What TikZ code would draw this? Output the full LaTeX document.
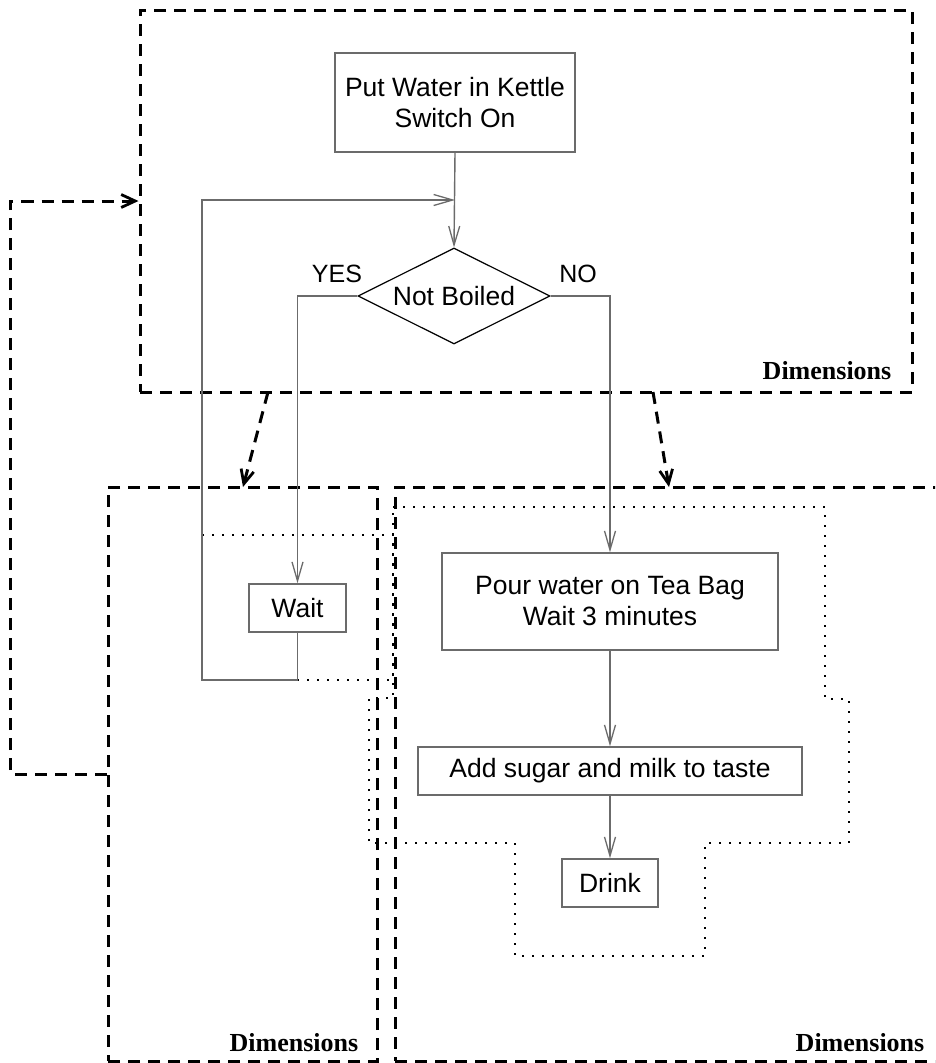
\documentclass[tikz,border=0pt]{standalone}
\usepackage{fontspec}
\setmainfont{Liberation Sans}
\newfontfamily\dimfont{Liberation Serif}
\usetikzlibrary{arrows.meta,shapes.geometric}

\begin{document}
\begin{tikzpicture}[x=1pt,y=-1pt,
  flow/.style={draw=black!58, line width=1.4pt},
  link/.style={flow, -{Straight Barb[length=19pt,width=11pt,line width=1.3pt]}},
  stepbox/.style={draw=black!58, line width=1.5pt, align=center, inner sep=0pt,
    font=\fontsize{26.5}{31}\selectfont},
  decision/.style={diamond, draw=black, line width=1.2pt, inner sep=0pt, aspect=2,
    minimum width=192pt, minimum height=96pt, font=\fontsize{26.5}{31}\selectfont},
  answer/.style={font=\fontsize{25}{28}\selectfont, inner sep=0pt},
  region/.style={draw=black, line width=3pt, dash pattern=on 12pt off 8pt,
    inner sep=0pt},
  regionlink/.style={draw=black, line width=3pt, dash pattern=on 12pt off 8pt,
    -{Straight Barb[length=14pt,width=13pt,line width=2.8pt]}},
  area/.style={draw=black, line width=2pt, dash pattern=on 2pt off 8pt},
  dimlabel/.style={font=\dimfont\bfseries\fontsize{26}{30}\selectfont,
    anchor=base east, inner sep=0pt}
]
\clip (0,0) rectangle (935,1063);
\fill[white] (0,0) rectangle (935,1063);

% dashed regions
\node[region, minimum width=772pt, minimum height=382pt] (top) at (526,201) {};
\node[region, minimum width=269pt, minimum height=574pt] (left) at (242.5,774) {};
\node[region, minimum width=548pt, minimum height=574pt] (right) at (669,774) {};

\node[dimlabel] (topdim) at ([xshift=-22pt,yshift=14pt]top.south east) {Dimensions};
\node[dimlabel] (leftdim) at ([xshift=-20pt,yshift=11pt]left.south east) {Dimensions};
\node[dimlabel] (rightdim) at ([xshift=-20pt,yshift=11pt]right.south east) {Dimensions};

% links between regions
\coordinate (fromA) at (268,392);
\coordinate (toA) at (243,487);
\coordinate (fromB) at (653,392);
\coordinate (toB) at (669,487);
\draw[regionlink] (fromA) -- (toA);
\draw[regionlink] (fromB) -- (toB);
\draw[regionlink] (left.west) -- ++(-96,0) |- (top.west);

% dotted areas
\draw[area] (202,535) rectangle (393,680);
\draw[area] (393,507) -- (825,507) -- (825,699) -- (849,699) -- (849,843)
  -- (705,843) -- (705,956) -- (515,956) -- (515,843) -- (369,843)
  -- (369,698) -- (393,698) -- cycle;

% flowchart
\node[stepbox, minimum width=240pt, minimum height=99pt] (kettle) at (455,102.5)
  {Put Water in Kettle\\Switch On};
\node[decision] (boiled) at (454,296) {Not Boiled};
\node[answer] (yes) at (337,274) {YES};
\node[answer] (no) at (578,274) {NO};
\node[stepbox, minimum width=97pt, minimum height=48pt] (wait) at (297.5,608) {Wait};
\node[stepbox, minimum width=336pt, minimum height=97pt] (pour) at (610,601.5)
  {Pour water on Tea Bag\\Wait 3 minutes};
\node[stepbox, minimum width=384pt, minimum height=48pt] (sugar) at (610,771)
  {Add sugar and milk to taste};
\node[stepbox, minimum width=96pt, minimum height=48pt] (drink) at (610,883) {Drink};

\coordinate (loopdown) at (202,680);
\coordinate (loopup) at (202,200);
\coordinate (join) at (455,200);

\draw[link] (kettle.south) -- (boiled.north);
\draw[link] (boiled.west) -| (wait.north);
\draw[link] (boiled.east) -| (pour.north);
\draw[link] (wait.south) |- (loopdown) -- (loopup) -- (join);
\draw[link] (pour.south) -- (sugar.north);
\draw[link] (sugar.south) -- (drink.north);
\end{tikzpicture}
\end{document}
